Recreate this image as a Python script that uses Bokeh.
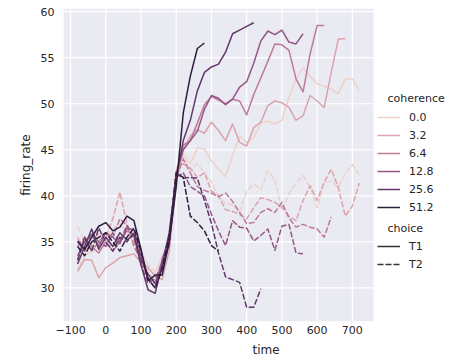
import numpy as np
from bokeh.plotting import figure
from bokeh.models import Legend, LegendItem, Label, FixedTicker, Range1d, BoxAnnotation
from bokeh.embed import file_html
from bokeh.resources import INLINE

# ---------------- data ----------------
time = list(range(-80, 721, 20))
coherence = [0.0, 3.2, 6.4, 12.8, 25.6, 51.2]
choices = ["T1", "T2"]

rate_T1_00 = [32.0, 33.5, 34.0, 35.0, 35.8, 34.5, 35.5, 36.0, 35.0, 33.5, 32.0, 31.5, 33.5, 34.5,
              42.5, 44.5, 43.5, 45.2, 45.1, 43.8, 42.9, 42.1, 44.4, 46.5, 45.8, 46.3, 47.9, 48.1,
              47.8, 48.2, 50.7, 52.7, 53.9, 53.0, 52.2, 51.9, 51.6, 51.1, 52.7, 52.7, 51.4]
rate_T1_32 = [31.8, 33.1, 33.0, 31.1, 32.2, 32.7, 33.3, 33.5, 33.7, 32.7, 32.2, 31.3, 30.9, 34.0,
              41.5, 45.0, 46.5, 47.2, 46.8, 48.0, 47.1, 46.0, 47.8, 45.8, 45.4, 47.4, 48.0, 49.8,
              50.3, 50.1, 49.6, 48.2, 48.7, 50.9, 50.3, 49.6, 53.4, 57.0, 57.1]
rate_T1_64 = [33.0, 35.5, 34.5, 33.8, 35.0, 34.0, 35.0, 36.2, 35.8, 33.0, 31.5, 30.5, 32.0, 35.0,
              42.0, 45.5, 46.0, 47.9, 49.9, 50.8, 50.4, 50.0, 50.5, 50.3, 48.8, 51.0, 52.8, 54.6,
              56.5, 56.4, 55.8, 52.7, 51.3, 55.4, 58.5, 58.5]
rate_T1_128 = [33.5, 35.0, 35.8, 34.5, 36.0, 35.5, 34.8, 36.5, 36.3, 33.5, 31.0, 30.0, 33.0, 35.5,
               42.5, 45.0, 46.0, 47.0, 49.4, 50.9, 50.6, 49.9, 50.5, 51.8, 52.4, 54.4, 56.8, 57.9,
               57.5, 58.0, 56.7, 56.5, 57.6]
rate_T1_256 = [32.6, 34.5, 36.4, 34.2, 35.5, 34.5, 36.0, 35.2, 35.8, 32.5, 29.8, 29.4, 32.5, 36.0,
               42.0, 46.0, 48.2, 51.4, 53.4, 54.0, 54.3, 55.6, 57.6, 58.0, 58.4, 58.8]
rate_T1_512 = [35.1, 34.2, 35.5, 36.7, 37.1, 36.2, 36.6, 37.8, 37.3, 34.2, 30.8, 31.4, 31.4, 35.0,
               41.0, 49.0, 53.0, 56.0, 56.6]

rate_T2_00 = [36.7, 35.0, 34.5, 35.5, 34.8, 36.5, 37.0, 36.0, 35.5, 34.0, 32.5, 31.8, 33.0, 35.0,
              43.0, 44.2, 42.8, 43.5, 42.5, 41.5, 40.0, 39.2, 39.0, 38.2, 40.5, 41.3, 40.7, 42.7,
              41.8, 38.4, 40.2, 41.4, 42.2, 40.9, 38.7, 41.4, 41.6, 40.9, 42.5, 43.4, 42.2]
rate_T2_32 = [35.5, 34.0, 35.0, 36.0, 35.5, 37.5, 40.4, 37.0, 35.0, 33.0, 31.5, 30.8, 32.5, 34.5,
              42.5, 43.5, 43.0, 42.0, 42.5, 40.5, 40.0, 38.5, 38.3, 38.0, 37.5, 38.7, 39.8, 39.6,
              39.3, 38.8, 37.8, 37.3, 39.5, 41.1, 39.5, 41.5, 42.9, 40.9, 37.8, 38.9, 41.4]
rate_T2_64 = [34.5, 35.5, 34.0, 35.0, 36.0, 35.5, 37.5, 36.8, 34.5, 33.0, 31.0, 30.5, 33.0, 35.0,
              42.0, 44.0, 42.5, 41.0, 40.6, 40.3, 39.9, 40.3, 39.4, 38.2, 37.0, 37.1, 38.2, 38.6,
              38.2, 39.3, 37.6, 36.6, 36.9, 36.6, 36.4, 35.5, 37.7]
rate_T2_128 = [35.0, 34.0, 36.0, 35.0, 34.5, 36.0, 35.0, 36.8, 35.5, 32.5, 30.5, 31.0, 32.5, 34.5,
               42.0, 42.5, 41.0, 40.5, 40.0, 38.0, 36.2, 34.6, 37.3, 36.6, 36.5, 35.1, 35.7, 36.4,
               34.1, 36.7, 36.9, 33.8, 33.7]
rate_T2_256 = [33.0, 35.5, 34.0, 36.5, 35.0, 34.0, 35.5, 35.0, 36.0, 33.0, 31.5, 30.5, 32.0, 35.0,
               42.5, 41.9, 42.0, 41.9, 39.5, 37.0, 33.8, 31.2, 30.9, 30.6, 27.9, 27.9, 29.9]
rate_T2_512 = [34.5, 33.5, 35.0, 35.5, 36.0, 35.0, 34.0, 35.5, 36.5, 34.0, 31.0, 30.0, 32.0, 35.5,
               42.5, 42.0, 37.8, 37.1, 36.2, 34.6, 34.0]

x_ticks = [-100, 0, 100, 200, 300, 400, 500, 600, 700]
y_ticks = [30, 35, 40, 45, 50, 55, 60]

series = {
    (0.0, "T1"): rate_T1_00, (3.2, "T1"): rate_T1_32, (6.4, "T1"): rate_T1_64,
    (12.8, "T1"): rate_T1_128, (25.6, "T1"): rate_T1_256, (51.2, "T1"): rate_T1_512,
    (0.0, "T2"): rate_T2_00, (3.2, "T2"): rate_T2_32, (6.4, "T2"): rate_T2_64,
    (12.8, "T2"): rate_T2_128, (25.6, "T2"): rate_T2_256, (51.2, "T2"): rate_T2_512,
}

# ---------------- style ----------------
def cubehelix(f, light=0.85, dark=0.15):
    x = light - (light - dark) * f
    a = 0.4 * x * (1 - x)
    phi = 2 * np.pi * 0.4 * x
    r = x + a * (-0.14861 * np.cos(phi) + 1.78277 * np.sin(phi))
    g = x + a * (-0.29227 * np.cos(phi) - 0.90649 * np.sin(phi))
    b = x + a * (1.97294 * np.cos(phi))
    return "#%02x%02x%02x" % tuple(int(round(float(np.clip(c, 0, 1)) * 255)) for c in (r, g, b))

colors = {c: cubehelix(i / (len(coherence) - 1)) for i, c in enumerate(coherence)}
dashes = {"T1": "solid", "T2": "6 2"}
TXT = "#262626"
FONT = "DejaVu Sans"
BG = "#eaeaf2"

# layout (pixels)
W, H = 468, 363
LEFT, TOP = 63, 8
AX_W, AX_H = 310, 313   # width / height of the grey axes area

all_vals = [v for s in series.values() for v in s]
ymin, ymax = min(all_vals), max(all_vals)
xmin, xmax = min(time), max(time)
ypad = 0.05 * (ymax - ymin)
xpad = 0.05 * (xmax - xmin)
x0, x1 = xmin - xpad, xmax + xpad
y0, y1 = ymin - ypad, ymax + ypad
# frame extends to the right edge so the legend can live inside it
frame_w = W - LEFT
x_end = x0 + (x1 - x0) * frame_w / AX_W

p = figure(width=W, height=H,
           x_range=Range1d(x0, x_end), y_range=Range1d(y0, y1),
           output_backend="svg", toolbar_location=None,
           min_border_left=LEFT, min_border_right=0, min_border_top=TOP,
           min_border_bottom=H - TOP - AX_H,
           background_fill_color="white", border_fill_color="white")
p.outline_line_color = None
p.grid.visible = False

p.add_layout(BoxAnnotation(left=x0, right=x1, fill_color=BG, fill_alpha=1.0,
                           line_alpha=0, level="underlay"))
# grid lines
p.segment(x0=x_ticks, x1=x_ticks, y0=[y0] * len(x_ticks), y1=[y1] * len(x_ticks),
          line_color="white", line_width=1.2)
p.segment(x0=[x0] * len(y_ticks), x1=[x1] * len(y_ticks), y0=y_ticks, y1=y_ticks,
          line_color="white", line_width=1.2)

p.xaxis.ticker = FixedTicker(ticks=x_ticks)
p.yaxis.ticker = FixedTicker(ticks=y_ticks)
p.xaxis.bounds = (x0, x1)
p.xaxis.major_label_overrides = {t: str(t).replace("-", "\u2212") for t in x_ticks}
for ax in p.axis:
    ax.axis_line_color = None
    ax.major_tick_line_color = None
    ax.minor_tick_line_color = None
    ax.major_tick_out = 0
    ax.major_tick_in = 0
    ax.major_label_text_font_size = "11px"
    ax.major_label_text_color = TXT
    ax.major_label_text_font = FONT
    ax.axis_label_text_font_size = "12px"
    ax.axis_label_text_font_style = "normal"
    ax.axis_label_text_color = TXT
    ax.axis_label_text_font = FONT
p.xaxis.axis_label = "time"
p.yaxis.axis_label = "firing_rate"
p.xaxis.major_label_standoff = 4
p.xaxis.axis_label_standoff = 6
p.yaxis.major_label_standoff = 9
p.yaxis.axis_label_standoff = 5

renderers = {}
for c in coherence:
    for ch in choices:
        vals = series[(c, ch)]
        r = p.line(time[:len(vals)], vals, line_color=colors[c], line_width=1.5,
                   line_dash=dashes[ch], line_cap="butt", line_join="round")
        renderers[(c, ch)] = r

# invisible (NaN) renderers that only provide the grey style swatches
style_r = {ch: p.line([np.nan, np.nan], [np.nan, np.nan], line_color="#333333",
                      line_width=1.5, line_dash=dashes[ch])
           for ch in choices}

common = dict(glyph_width=23, glyph_height=18, label_height=18, label_standoff=9, spacing=0,
              padding=0, margin=0, border_line_alpha=0, background_fill_alpha=0,
              label_text_font_size="11px", label_text_color=TXT, label_text_font=FONT)
leg1 = Legend(items=[LegendItem(label=str(c), renderers=[renderers[(c, "T1")]]) for c in coherence],
              location=(314, 105), **common)
leg2 = Legend(items=[LegendItem(label=ch, renderers=[style_r[ch]]) for ch in choices],
              location=(314, 48), **common)
p.add_layout(leg1)
p.add_layout(leg2)

for txt, yy in [("coherence", 222.7), ("choice", 93.3)]:
    p.add_layout(Label(x=324, y=yy, x_units="screen", y_units="screen", text=txt,
                       text_baseline="middle", text_align="left", text_font_size="11px",
                       text_color=TXT, text_font=FONT))

open("out.html", "w").write(file_html(p, INLINE))
